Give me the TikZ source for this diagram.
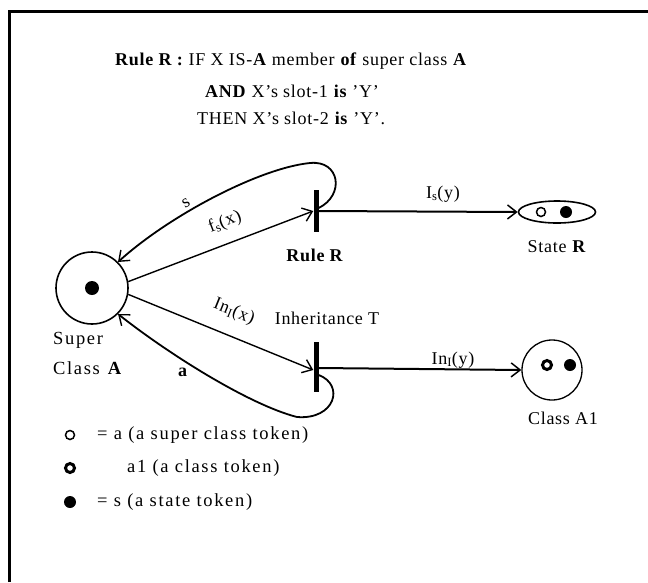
\documentclass[tikz,border=0pt]{standalone}
\usepackage{fontspec}
\setmainfont{Liberation Serif}[LetterSpace=4]
\newfontfamily\widefont{Liberation Serif}[LetterSpace=9]
\usetikzlibrary{arrows.meta,shapes.geometric,calc}
\tikzset{
  lbl/.style={font=\fontsize{18}{21}\selectfont, inner sep=0pt},
  leg/.style={font=\widefont\fontsize{18.5}{21}\selectfont, inner sep=0pt},
  bar/.style={fill=black, draw=none, minimum width=5, minimum height=46, inner sep=0pt},
  place/.style={draw, line width=1.6pt, inner sep=0pt},
  arc/.style={line width=1.4pt, -{Straight Barb[length=9pt,width=14pt,line width=1.4pt]}},
  harc/.style={line width=2pt, -{Straight Barb[length=9pt,width=14pt,line width=1.5pt]}},
  opentok/.style={circle, draw, line width=1.5pt, minimum size=9, inner sep=0pt},
  ringtok/.style={circle, draw, line width=3pt, minimum size=9, inner sep=0pt},
  filltok/.style={circle, fill=black, minimum size=12, inner sep=0pt},
}
\begin{document}
\begin{tikzpicture}[x=1pt,y=-1pt]
\useasboundingbox (0,0) rectangle (648,582);
% frame
\draw[line width=3pt] (9,582) -- (9,11) -- (648,11);
% title
\node[lbl, anchor=west] (t1) at (115,61) {\textbf{Rule R :} IF X IS-\textbf{A} member \textbf{of} super class \textbf{A}};
\node[lbl, anchor=west] (t2) at (205,91) {\textbf{AND} X's slot-1 \textbf{is} 'Y'};
\node[lbl, anchor=west] (t3) at (197,118) {THEN X's slot-2 \textbf{is} 'Y'.};
% places
\node[place, circle, minimum size=72] (A) at (92,288) {};
\node[filltok, minimum size=14] (Atok) at (92,288) {};
\node[place, ellipse, minimum width=77, minimum height=22] (S) at (557,212) {};
\node[opentok] (Stok1) at (541,212) {};
\node[filltok] (Stok2) at (566,212) {};
\node[place, circle, minimum size=60, line width=1.3pt] (C) at (552,370) {};
\node[ringtok] (Ctok1) at (547,365) {};
\node[filltok] (Ctok2) at (570,365) {};
% transitions
\node[bar, minimum height=42] (R) at (316,211) {};
\node[bar, minimum height=50] (T) at (316,367) {};
% labels
\node[leg, anchor=west] (Albl1) at (53,340) {Super};
\node[leg, anchor=west] (Albl2) at (53,368) {Class \textbf{A}};
\node[lbl] (Rlbl) at (315,255) {\textbf{Rule R}};
\node[lbl] (Slbl) at (557,247) {State \textbf{R}};
\node[lbl] (Tlbl) at (327,318) {Inheritance T};
\node[lbl] (Clbl) at (563,418) {Class A1};
% arcs
\draw[arc] (A.10) -- (R.west);
\draw[arc] (A.-10) -- ($(T.west)+(0,3)$);
\draw[harc] (R.east) -- (S.west);
\draw[harc] ($(T.east)+(0,1)$) -- (C.west);
\draw[arc, line width=1.8pt] ($(R.east)+(0,-3)$) .. controls (345,195) and (340,160) .. (310,163)
  .. controls (260,168) and (170,215) .. (A.45);
\draw[arc, line width=1.8pt] ($(T.east)+(0,8)$) .. controls (345,385) and (335,420) .. (297,417)
  .. controls (250,405) and (170,355) .. (A.-45);
\node[lbl, rotate=21] (fs) at (225,222) {f\textsubscript{s}(x)};
\node[lbl, rotate=-22] (inx) at (234,312) {In\textsubscript{I}(x)};
\node[lbl] (isy) at (443,194) {I\textsubscript{s}(y)};
\node[lbl] (iny) at (453,360) {In\textsubscript{I}(y)};
\node[lbl, rotate=30] (slbl) at (186,203) {s};
\node[lbl] (albl) at (183,372) {\textbf{a}};
% legend
\node[opentok] (L1) at (70,435) {};
\node[ringtok] (L2) at (70,468) {};
\node[filltok] (L3) at (70,502) {};
\node[leg, anchor=west] (L1t) at (97,435) {= a (a super class token)};
\node[leg, anchor=west] (L2t) at (127,468) {a1 (a class token)};
\node[leg, anchor=west] (L3t) at (97,502) {= s (a state token)};
\end{tikzpicture}
\end{document}
